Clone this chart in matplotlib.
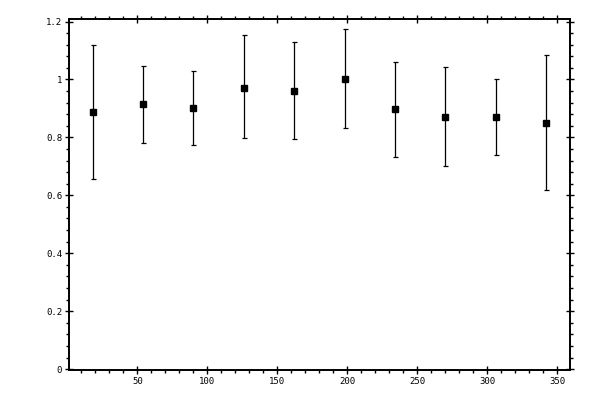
import matplotlib
matplotlib.use("Agg")
import matplotlib.pyplot as plt
from matplotlib.ticker import MultipleLocator, FuncFormatter

# values
angles = [18, 54, 90, 126, 162, 198, 234, 270, 306, 342]
ratio = [0.886, 0.914, 0.900, 0.972, 0.959, 1.003, 0.897, 0.872, 0.869, 0.848]
upper = [1.118, 1.048, 1.028, 1.152, 1.128, 1.175, 1.059, 1.044, 1.000, 1.083]
lower = [0.655, 0.779, 0.772, 0.797, 0.793, 0.831, 0.731, 0.700, 0.738, 0.617]

err_low = [r - lo for r, lo in zip(ratio, lower)]
err_high = [hi - r for r, hi in zip(ratio, upper)]

fig = plt.figure(figsize=(6, 4), dpi=100)
ax = fig.add_axes([0.115, 0.075, 0.835, 0.877])

ax.errorbar(
    angles,
    ratio,
    yerr=[err_low, err_high],
    fmt="s",
    color="black",
    markersize=5,
    elinewidth=0.9,
    capsize=1.8,
    capthick=0.9,
)

ax.set_xlim(1.2, 359)
ax.set_ylim(-0.003, 1.208)

ax.xaxis.set_major_locator(MultipleLocator(50))
ax.xaxis.set_minor_locator(MultipleLocator(10))
ax.yaxis.set_major_locator(MultipleLocator(0.2))
ax.yaxis.set_minor_locator(MultipleLocator(0.04))
ax.yaxis.set_major_formatter(FuncFormatter(lambda v, p: f"{v:g}"))
ax.xaxis.set_major_formatter(FuncFormatter(lambda v, p: f"{v:g}"))

ax.tick_params(which="both", top=True, right=True, width=1.0, colors="black")
ax.tick_params(which="major", direction="inout", length=6, labelsize=6.5, pad=2)
ax.tick_params(which="minor", direction="out", length=2.5)

for lbl in ax.get_xticklabels() + ax.get_yticklabels():
    lbl.set_family("DejaVu Sans Mono")

for spine in ax.spines.values():
    spine.set_linewidth(1.4)

fig.savefig("out.png", dpi=100)
